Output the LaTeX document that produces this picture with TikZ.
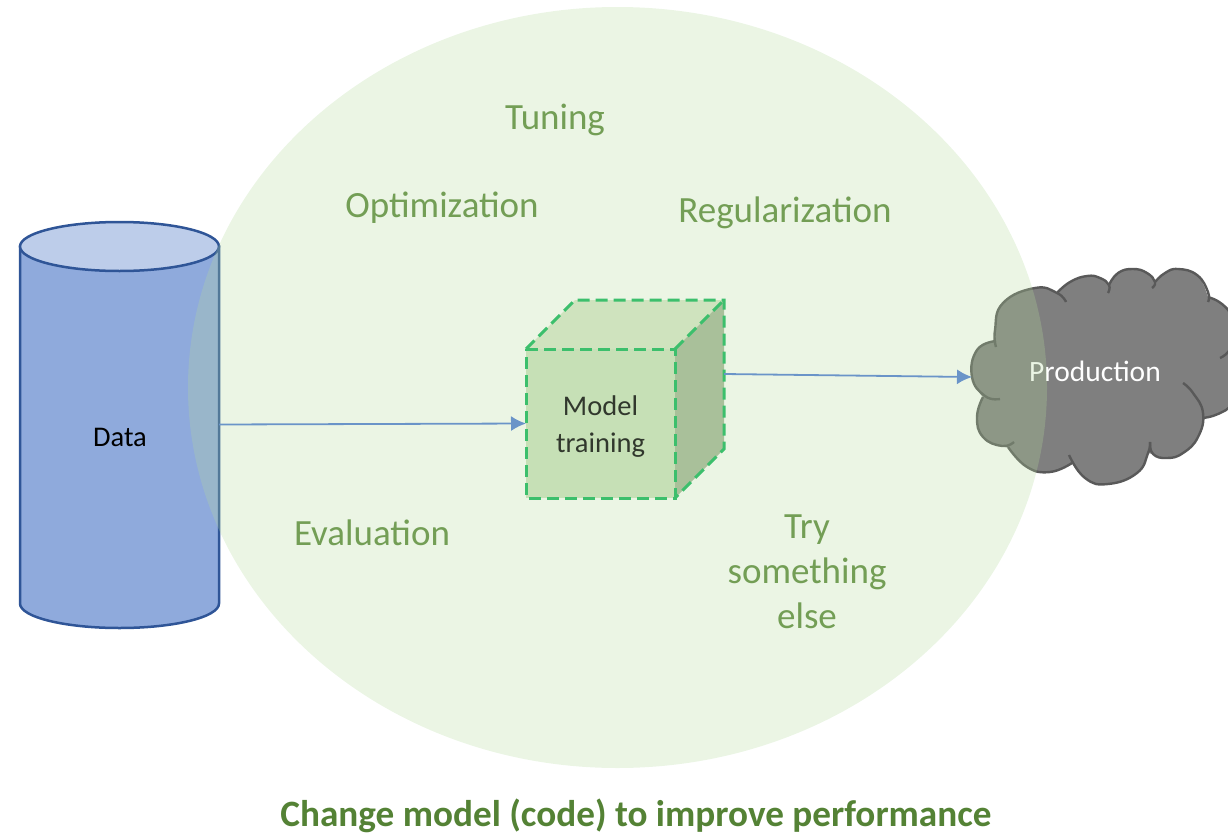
\documentclass[tikz,border=0pt]{standalone}
\usepackage{fontspec}
\setmainfont{Carlito}
\usetikzlibrary{shapes.geometric, arrows.meta}
\definecolor{cylfill}{HTML}{8FAADC}
\definecolor{cyltop}{HTML}{BDCDEA}
\definecolor{cylline}{HTML}{2F5597}
\definecolor{areafill}{HTML}{B4DA9C}
\definecolor{arealabel}{HTML}{739E55}
\definecolor{titlegreen}{HTML}{548235}
\definecolor{boxfront}{HTML}{C6E0B6}
\definecolor{boxtop}{HTML}{CFE3BE}
\definecolor{boxside}{HTML}{A9C09A}
\definecolor{boxline}{HTML}{3CBF6C}
\definecolor{cloudfill}{HTML}{7F7F7F}
\definecolor{cloudline}{HTML}{595959}
\definecolor{flowline}{HTML}{6A94C8}

\begin{document}
\begin{tikzpicture}
    [
        x=1pt, y=-1pt,
        store/.style = {draw=cylline, line width=2.5pt},
        area/.style = {shape=ellipse, fill=areafill, fill opacity=0.27, minimum width=859pt, minimum height=761pt, inner sep=0pt},
        face/.style = {draw=boxline, line width=3pt, dash pattern=on 12pt off 6pt},
        frontface/.style = {shape=rectangle, fill=boxfront, minimum width=149pt, minimum height=149pt, inner sep=0pt, outer sep=0pt},
        lobe/.style = {draw=cloudline, line width=2.4pt, smooth, tension=0.8},
        topic/.style = {color=arealabel, align=center, font=\fontsize{37}{45}\selectfont},
        small/.style = {align=center, font=\fontsize{28.5}{37}\selectfont},
        flow/.style = {draw=flowline, line width=1.8pt, -{Latex[length=15pt, width=15pt]}},
    ]
    \useasboundingbox (0,0) rectangle (1228,835);

    % cylinder
    \draw[store, fill=cylfill] (20,246.5) -- (20,603.5) arc[start angle=180, end angle=360, x radius=99.5pt, y radius=24.5pt] -- (219,246.5) -- cycle;
    \draw[store, fill=cyltop] (119.5,246.5) circle[x radius=99.5pt, y radius=24.5pt];
    \node[small, color=black] (data) at (120,437) {Data};
    \coordinate (dataout) at (219,424.5);

    % cloud, outer edge first and the lobes on top
    \fill[cloudfill]
        plot[smooth, tension=0.8] coordinates {(996,341) (995,330) (1003,303) (1035,288) (1057,293)}
        -- plot[smooth, tension=0.8] coordinates {(1057,293) (1070,282) (1087,276) (1100,278) (1109,285)}
        -- plot[smooth, tension=0.8] coordinates {(1109,285) (1118,273) (1133,269) (1147,273) (1155,282)}
        -- plot[smooth, tension=0.8] coordinates {(1155,282) (1165,273) (1178,269) (1197,275) (1208,297)}
        -- plot[smooth, tension=0.8] coordinates {(1208,297) (1222,304) (1232,318) (1234,340) (1238,365)}
        -- plot[smooth, tension=0.8] coordinates {(1238,365) (1240,385) (1232,404) (1218,414) (1203,418)}
        -- plot[smooth, tension=0.8] coordinates {(1203,418) (1198,437) (1183,453) (1167,458) (1153,454)}
        -- plot[smooth, tension=0.8] coordinates {(1148,453) (1137,473) (1108,484) (1085,478) (1072,463)}
        -- plot[smooth, tension=0.8] coordinates {(1072,463) (1050,472) (1027,467) (1008,447)}
        -- plot[smooth, tension=0.8] coordinates {(1008,447) (1002,446) (983,437) (977,417) (983,397)}
        -- plot[smooth, tension=0.8] coordinates {(983,397) (972,377) (977,350) (996,341)}
        -- cycle;
    \draw[lobe] plot coordinates {(996,347) (995,330) (1003,303) (1035,288) (1057,293) (1066,302)};
    \draw[lobe] plot coordinates {(1057,293) (1070,282) (1087,276) (1100,278) (1109,285) (1108,293)};
    \draw[lobe] plot coordinates {(1109,285) (1118,273) (1133,269) (1147,273) (1155,282) (1152,288)};
    \draw[lobe] plot coordinates {(1155,282) (1165,273) (1178,269) (1197,275) (1208,292) (1208,302)};
    \draw[lobe] plot coordinates {(1208,297) (1222,304) (1232,318) (1234,340) (1228,352) (1220,358)};
    \draw[lobe] plot coordinates {(1203,418) (1218,414) (1232,404) (1240,385) (1238,365)};
    \draw[lobe] plot coordinates {(1183,383) (1193,393) (1203,413) (1198,437) (1183,453) (1167,458) (1153,454) (1150,442)};
    \draw[lobe] plot coordinates {(1150,442) (1148,453) (1137,473) (1108,484) (1085,478) (1069,455)};
    \draw[lobe] plot coordinates {(1072,463) (1050,472) (1027,467) (1008,447)};
    \draw[lobe] plot coordinates {(1014,442) (1002,446) (983,437) (977,417) (983,397)};
    \draw[lobe] plot coordinates {(1000,399) (985,396) (972,377) (977,350) (996,341)};
    \node[small, color=white, font=\fontsize{29.5}{37}\selectfont] (production) at (1095,371) {Production};
    \coordinate (cloudin) at (972,377);

    \node[area] (trainingarea) at (617.5,387.5) {};

    \node[topic] (tuning) at (555,120) {Tuning};
    \node[topic] (optimization) at (442,208) {Optimization};
    \node[topic] (regularization) at (785,213) {Regularization};
    \node[topic] (evaluation) at (372,533) {Evaluation};
    \node[topic] (other) at (807,572) {Try\\something\\else};

    % cube
    \node[frontface] (front) at (600.5,423.5) {};
    \fill[boxtop] (front.north west) -- ++(49,-49) -- ++(149,0) -- (front.north east) -- cycle;
    \fill[boxside] (front.north east) -- ++(49,-49) -- ++(0,149) -- (front.south east) -- cycle;
    \draw[face] (front.north west) -- (front.north east) -- (front.south east) -- (front.south west) -- cycle;
    \draw[face] (front.north west) -- ++(49,-49) -- ++(149,0) -- ++(0,149) -- (front.south east);
    \draw[face] (front.north east) -- ++(49,-49);
    \node[small, color=black!75!boxfront] (modellabel) at (600.5,427) {Model\\training};
    \coordinate (frontout) at (724,374);

    \draw[flow] (dataout) -- (front.west);
    \draw[flow] (frontout) -- (cloudin);

    \node[color=titlegreen, font=\fontsize{37.2}{45}\selectfont\bfseries] (title) at (636,816) {Change model (code) to improve performance};
\end{tikzpicture}
\end{document}
